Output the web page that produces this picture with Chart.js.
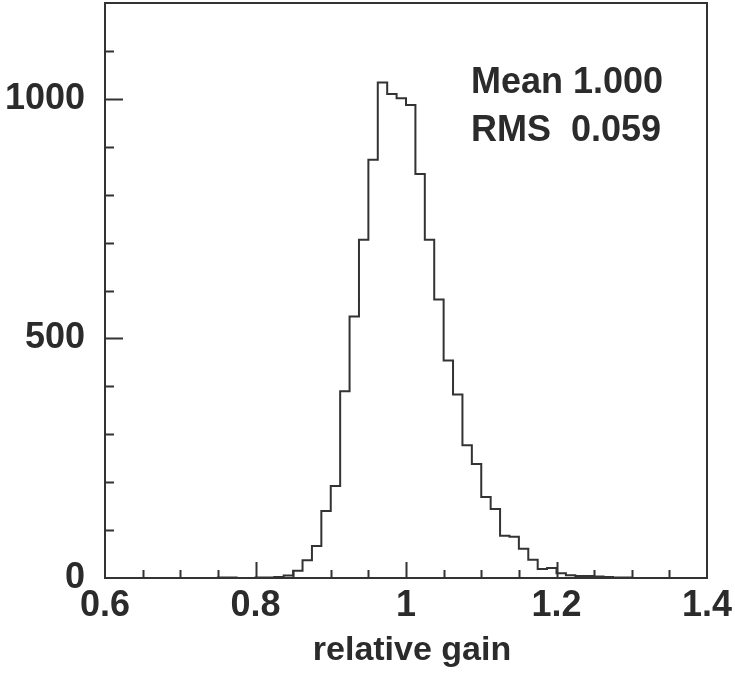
<!DOCTYPE html>
<html>
<head>
<meta charset="utf-8">
<script src="https://cdn.jsdelivr.net/npm/chart.js@4.4.1/dist/chart.umd.min.js"></script>
<style>
  html, body { margin: 0; padding: 0; background: #fff; }
  #wrap { width: 735px; height: 683px; }
</style>
</head>
<body>
<div id="wrap"><canvas id="gainChart"></canvas></div>
<script>
// histogram: 64 bins from 0.6 to 1.4
const xMin = 0.6;
const xMax = 1.4;
const binWidth = 0.0125;
const binCounts = [
    0, 0, 0, 0, 0, 0, 0, 0, 0, 0, 0, 0, 1, 1, 0, 0,
    1, 1, 2, 5, 15, 37, 67, 140, 192, 390, 546, 706, 873, 1034, 1010, 1001,
    987, 843, 706, 581, 454, 383, 277, 238, 169, 144, 88, 86, 61, 38, 19, 21,
    10, 6, 4, 4, 3, 2, 1, 1, 0, 0, 0, 0, 0, 0, 0, 0
];
const xTickValues = [0.6, 0.8, 1.0, 1.2, 1.4];
const yTickValues = [0, 500, 1000];
const yMax = 1200;
const xMinorStep = 0.05;
const yMinorStep = 100;
const statLines = ['Mean 1.000', 'RMS  0.059'];
const xTitle = 'relative gain';

const ink = '#2b2b2b';
const lineColor = '#333333';
const fontFamily = '"Liberation Sans", Arial, Helvetica, sans-serif';

// step outline points: each bin's low edge + closing edge
const stepPoints = binCounts.map((c, i) => ({ x: xMin + i * binWidth, y: c }));
stepPoints.push({ x: xMax, y: binCounts[binCounts.length - 1] });

const frameAndTicks = {
    id: 'frameAndTicks',
    afterDraw(chart) {
        const { ctx, chartArea: a, scales: { x, y } } = chart;
        ctx.save();
        ctx.strokeStyle = lineColor;
        ctx.lineWidth = 2;
        ctx.strokeRect(a.left, a.top, a.right - a.left, a.bottom - a.top);

        ctx.beginPath();
        const nx = Math.round((xMax - xMin) / xMinorStep);
        for (let i = 1; i < nx; i++) {
            const v = xMin + i * xMinorStep;
            const major = xTickValues.some(t => Math.abs(t - v) < 1e-6);
            const px = Math.round(x.getPixelForValue(v)) + 0.5;
            ctx.moveTo(px, a.bottom);
            ctx.lineTo(px, a.bottom - (major ? 16 : 8));
        }
        const ny = Math.round(yMax / yMinorStep);
        for (let i = 1; i < ny; i++) {
            const v = i * yMinorStep;
            const major = yTickValues.includes(v);
            const py = Math.round(y.getPixelForValue(v)) + 0.5;
            ctx.moveTo(a.left, py);
            ctx.lineTo(a.left + (major ? 18 : 9), py);
        }
        ctx.stroke();

        ctx.fillStyle = ink;
        ctx.font = 'bold 36px ' + fontFamily;
        ctx.textBaseline = 'alphabetic';
        ctx.textAlign = 'left';
        statLines.forEach((s, i) => ctx.fillText(s, 471, 93 + i * 48));

        ctx.font = 'bold 34px ' + fontFamily;
        ctx.textAlign = 'center';
        ctx.fillText(xTitle, 412, 660);
        ctx.restore();
    }
};

new Chart(document.getElementById('gainChart'), {
    type: 'line',
    data: {
        datasets: [{
            data: stepPoints,
            stepped: true,
            borderColor: lineColor,
            borderWidth: 2,
            pointRadius: 0,
            fill: false
        }]
    },
    options: {
        responsive: true,
        maintainAspectRatio: false,
        animation: false,
        layout: { padding: { top: 3, right: 28, left: 0, bottom: 0 } },
        plugins: { legend: { display: false }, tooltip: { enabled: false } },
        scales: {
            x: {
                type: 'linear',
                min: xMin,
                max: xMax,
                afterBuildTicks: s => { s.ticks = xTickValues.map(v => ({ value: v })); },
                afterFit: s => { s.height = 105; s.paddingLeft = 0; s.paddingRight = 0; },
                grid: { display: false },
                border: { display: false },
                ticks: {
                    color: ink,
                    padding: -2,
                    maxRotation: 0,
                    font: { family: fontFamily, size: 36, weight: 'bold' },
                    callback: v => String(Math.round(v * 10) / 10)
                }
            },
            y: {
                min: 0,
                max: yMax,
                afterBuildTicks: s => { s.ticks = yTickValues.map(v => ({ value: v })); },
                afterFit: s => { s.width = 105; s.paddingTop = 0; s.paddingBottom = 0; },
                grid: { display: false },
                border: { display: false },
                ticks: {
                    color: ink,
                    padding: 12,
                    font: { family: fontFamily, size: 36, weight: 'bold' },
                    callback: v => String(v)
                }
            }
        }
    },
    plugins: [frameAndTicks]
});
</script>
</body>
</html>
